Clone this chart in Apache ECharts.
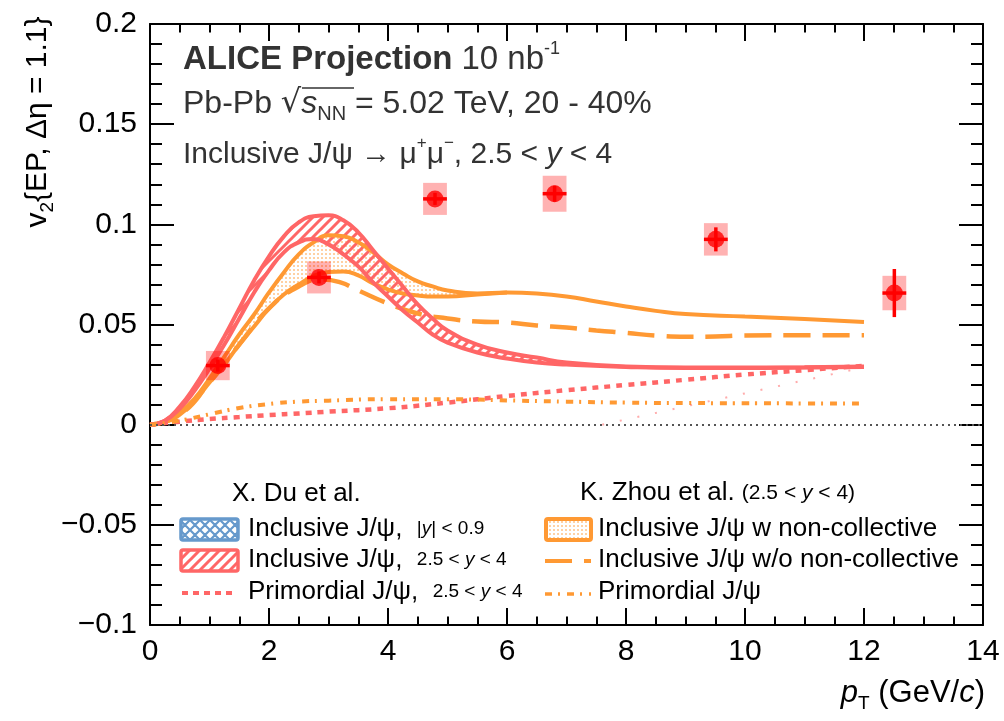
<!DOCTYPE html>
<html><head><meta charset="utf-8">
<script src="https://cdn.jsdelivr.net/npm/echarts@6/dist/echarts.min.js"></script>
<style>html,body{margin:0;padding:0;background:#fff}#c{width:1004px;height:721px}</style>
</head><body><div id="c"></div>
<script>
// ---------------- data ----------------
const xTicks = [0, 2, 4, 6, 8, 10, 12, 14];
const xTickLabels = ['0', '2', '4', '6', '8', '10', '12', '14'];
const yTicks = [-0.1, -0.05, 0, 0.05, 0.1, 0.15, 0.2];
const yTickLabels = ['\u22120.1', '\u22120.05', '0', '0.05', '0.1', '0.15', '0.2'];

// ALICE projected points
const dataPt = [1.14, 2.84, 4.79, 6.80, 9.51, 12.51];
const dataV2 = [0.0295, 0.0735, 0.1127, 0.1153, 0.0925, 0.0657];
const dataStat = [0.003, 0.003, 0.003, 0.004, 0.006, 0.012];
const dataSys = [0.0073, 0.008, 0.008, 0.009, 0.0081, 0.0086];
const dataPtErr = [0.2, 0.2, 0.2, 0.2, 0.2, 0.2];

// X. Du et al., inclusive J/psi 2.5<y<4 (band)
const duPt = [0, 0.25, 0.5, 0.75, 1, 1.25, 1.5, 1.75, 2, 2.25, 2.5, 2.75, 3, 3.25, 3.5, 3.75, 4, 4.25, 4.5, 4.75, 5, 5.5, 6, 6.5, 7, 8, 9, 10, 11, 12];
const duUpper = [0, 0.002, 0.009, 0.019, 0.031, 0.044, 0.058, 0.072, 0.084, 0.094, 0.101, 0.104, 0.1045, 0.102, 0.096, 0.087, 0.078, 0.069, 0.060, 0.053, 0.047, 0.040, 0.036, 0.0335, 0.031, 0.029, 0.0285, 0.0285, 0.0287, 0.029];
const duLower = [0, 0.002, 0.008, 0.017, 0.028, 0.040, 0.053, 0.066, 0.077, 0.0860, 0.0910, 0.0927, 0.090, 0.085, 0.079, 0.071, 0.064, 0.057, 0.051, 0.045, 0.041, 0.036, 0.033, 0.031, 0.030, 0.0288, 0.0283, 0.0283, 0.0285, 0.0288];

// X. Du et al., primordial J/psi
const duPrimPt = [0, 0.5, 1, 1.5, 2, 2.5, 3, 4, 5, 6, 7, 8, 9, 10, 11, 12];
const duPrimV2 = [0, 0.0015, 0.0028, 0.0038, 0.0048, 0.0056, 0.0065, 0.0082, 0.0110, 0.0143, 0.0172, 0.0198, 0.0224, 0.025, 0.0272, 0.0294];

// K. Zhou et al., inclusive w non-collective (band; lower edge merges with upper at 6 GeV/c)
const zhouPt = [0, 0.25, 0.5, 0.75, 1, 1.25, 1.5, 1.75, 2, 2.25, 2.5, 2.75, 3, 3.25, 3.5, 3.75, 4, 4.25, 4.5, 4.75, 5, 5.5, 6, 6.5, 7, 7.5, 8, 8.5, 9, 10, 11, 12];
const zhouUpper = [0, 0.0015, 0.006, 0.013, 0.023, 0.034, 0.045, 0.055, 0.066, 0.076, 0.085, 0.091, 0.0945, 0.094, 0.091, 0.086, 0.080, 0.0755, 0.0715, 0.069, 0.067, 0.0655, 0.066, 0.0655, 0.064, 0.0615, 0.059, 0.0568, 0.0552, 0.054, 0.0528, 0.0513];
const zhouLower = [0, 0.0012, 0.005, 0.012, 0.021, 0.030, 0.040, 0.049, 0.058, 0.065, 0.070, 0.0742, 0.0762, 0.0765, 0.0745, 0.0705, 0.0675, 0.0655, 0.0645, 0.064, 0.064, 0.065, 0.066];

// K. Zhou et al., inclusive w/o non-collective
const zhouNcPt = [0, 0.5, 1, 1.5, 2, 2.5, 2.9, 3.2, 3.5, 4, 4.5, 5, 5.5, 6, 6.5, 7, 7.5, 8, 8.5, 9, 9.5, 10, 11, 12];
const zhouNcV2 = [0, 0.005, 0.021, 0.040, 0.058, 0.069, 0.0725, 0.071, 0.067, 0.0605, 0.0555, 0.053, 0.0515, 0.051, 0.0495, 0.0485, 0.047, 0.0458, 0.0445, 0.0439, 0.044, 0.0445, 0.0446, 0.0446];

// K. Zhou et al., primordial
const zhouPrimPt = [0, 0.5, 1, 1.5, 2, 2.5, 3, 4, 5, 6, 7, 8, 9, 10, 11, 12];
const zhouPrimV2 = [0, 0.002, 0.0052, 0.0083, 0.0103, 0.0115, 0.012, 0.0127, 0.0127, 0.0121, 0.0115, 0.011, 0.0108, 0.0107, 0.0106, 0.0105];

// faint hatch residue visible in the original
const residuePt = [7.6, 11.9];
const residueV2 = [0.0, 0.028];

// ---------------- styles ----------------
const RED = '#ff6666', ORANGE = '#ff9933', BLUE = '#6699cc';
const FONT = '"Liberation Sans", Arial, Helvetica, sans-serif';

function hatchCanvas(color, bg, both) {
  const c = document.createElement('canvas'); c.width = 10; c.height = 10;
  const g = c.getContext('2d');
  if (bg) { g.fillStyle = bg; g.fillRect(0, 0, 10, 10); }
  g.strokeStyle = color; g.lineWidth = both ? 2.2 : 3; g.beginPath();
  g.moveTo(-5, 5); g.lineTo(5, -5); g.moveTo(0, 10); g.lineTo(10, 0); g.moveTo(5, 15); g.lineTo(15, 5);
  if (both) { g.moveTo(-5, 5); g.lineTo(5, 15); g.moveTo(0, 0); g.lineTo(10, 10); g.moveTo(5, -5); g.lineTo(15, 5); }
  g.stroke();
  return c;
}
function dotCanvas(color, bg) {
  const c = document.createElement('canvas'); c.width = 4; c.height = 4;
  const g = c.getContext('2d');
  if (bg) { g.fillStyle = bg; g.fillRect(0, 0, 4, 4); }
  g.fillStyle = color; g.fillRect(1, 1, 2, 2);
  return c;
}
const redHatch = { image: hatchCanvas(RED, null, false), repeat: 'repeat' };
const redHatchLeg = { image: hatchCanvas(RED, '#fff', false), repeat: 'repeat' };
const blueCross = { image: hatchCanvas(BLUE, '#fff', true), repeat: 'repeat' };
const orangeDots = { image: dotCanvas('rgba(255,153,51,0.45)', null), repeat: 'repeat' };
const orangeDotsLeg = { image: dotCanvas('rgba(255,153,51,0.45)', '#fff'), repeat: 'repeat' };

const zip = (xs, ys) => xs.map((x, i) => [x, ys[i]]);

const lineBase = { type: 'line', showSymbol: false, symbol: 'none', smooth: 0.5, silent: true, z: 2 };

// band fill drawn as one polygon (upper edge forward, lower edge back) through the axis scales
function bandSeries(name, xs, up, lo, fill) {
  const n = lo.length;
  return {
    type: 'custom', name: name, silent: true, z: 1,
    data: xs.slice(0, n).map((x, i) => [x, up[i], lo[i]]),
    encode: { x: 0, y: [1, 2] },
    renderItem: (p, api) => {
      if (p.dataIndex !== 0) return null;
      const pts = [];
      for (let i = 0; i < n; i++) pts.push(api.coord([xs[i], up[i]]));
      for (let i = n - 1; i >= 0; i--) pts.push(api.coord([xs[i], lo[i]]));
      return { type: 'polygon', shape: { points: pts }, style: { fill: fill, stroke: null } };
    }
  };
}

const chart = echarts.init(document.getElementById('c'), null, { renderer: 'canvas' });

const axisCommonX = {
  type: 'value', min: 0, max: 14, interval: 2,
  axisLine: { show: true, onZero: false, lineStyle: { color: '#000', width: 2 } },
  axisTick: { show: true, inside: true, length: 17, lineStyle: { color: '#000', width: 2 } },
  minorTick: { show: true, splitNumber: 4, length: 8.5, lineStyle: { color: '#000', width: 2 } },
  splitLine: { show: false }, minorSplitLine: { show: false }
};
const axisCommonY = {
  type: 'value', min: -0.1, max: 0.2, interval: 0.05,
  axisLine: { show: true, onZero: false, lineStyle: { color: '#000', width: 2 } },
  axisTick: { show: true, inside: true, length: 24, lineStyle: { color: '#000', width: 2 } },
  minorTick: { show: true, splitNumber: 5, length: 12, lineStyle: { color: '#000', width: 2 } },
  splitLine: { show: false }, minorSplitLine: { show: false }
};

const option = {
  animation: false,
  backgroundColor: '#fff',
  grid: { left: 150, right: 21, top: 24, bottom: 96, containLabel: false, outerBoundsMode: 'none' },
  xAxis: [
    Object.assign({}, axisCommonX, {
      position: 'bottom',
      axisLabel: { show: true, fontSize: 30, fontFamily: FONT, color: '#000', margin: 12,
        formatter: v => { const i = xTicks.findIndex(t => Math.abs(t - v) < 1e-9); return i >= 0 ? xTickLabels[i] : ''; } }
    }),
    Object.assign({}, axisCommonX, { position: 'top', axisLabel: { show: false } })
  ],
  yAxis: [
    Object.assign({}, axisCommonY, {
      position: 'left',
      axisLabel: { show: true, fontSize: 30, fontFamily: FONT, color: '#000', margin: 13,
        formatter: v => { const i = yTicks.findIndex(t => Math.abs(t - v) < 1e-9); return i >= 0 ? yTickLabels[i] : ''; } }
    }),
    Object.assign({}, axisCommonY, { position: 'right', axisLabel: { show: false } })
  ],
  series: [
    // zero reference line
    { type: 'line', data: [], silent: true, z: 1,
      markLine: { silent: true, symbol: 'none', label: { show: false },
        lineStyle: { color: '#555', width: 2, type: [2, 4] }, data: [{ yAxis: 0 }] } },
    // band fills
    bandSeries('zhouBand', zhouPt, zhouUpper, zhouLower, orangeDots),
    bandSeries('duBand', duPt, duUpper, duLower, redHatch),
    // Zhou band edges
    Object.assign({}, lineBase, { name: 'zhouLow', data: zip(zhouPt.slice(0, zhouLower.length), zhouLower), lineStyle: { color: ORANGE, width: 4 } }),
    Object.assign({}, lineBase, { name: 'zhouUp', data: zip(zhouPt, zhouUpper), lineStyle: { color: ORANGE, width: 4 } }),
    // Zhou w/o non-collective
    Object.assign({}, lineBase, { name: 'zhouNc', data: zip(zhouNcPt, zhouNcV2), lineStyle: { color: ORANGE, width: 4.5, type: [27, 12] } }),
    // Du band edges
    Object.assign({}, lineBase, { name: 'duLow', data: zip(duPt, duLower), lineStyle: { color: RED, width: 4 } }),
    Object.assign({}, lineBase, { name: 'duUp', data: zip(duPt, duUpper), lineStyle: { color: RED, width: 4 } }),
    // primordial
    Object.assign({}, lineBase, { name: 'duPrim', data: zip(duPrimPt, duPrimV2), lineStyle: { color: RED, width: 4.5, type: [6, 6] } }),
    Object.assign({}, lineBase, { name: 'zhouPrim', data: zip(zhouPrimPt, zhouPrimV2), lineStyle: { color: ORANGE, width: 4, type: [7, 6, 2, 7] } }),
    Object.assign({}, lineBase, { name: 'residue', smooth: false, data: zip(residuePt, residueV2), lineStyle: { color: 'rgba(255,102,102,0.55)', width: 2, type: [2, 16] } }),
    // systematic boxes
    { type: 'custom', name: 'sys', silent: true, z: 4,
      data: dataPt.map((x, i) => [x, dataV2[i], dataSys[i], dataPtErr[i]]),
      encode: { x: 0, y: 1 },
      renderItem: (p, api) => {
        const x = api.value(0), y = api.value(1), s = api.value(2), w = api.value(3);
        const a = api.coord([x - w, y + s]), b = api.coord([x + w, y - s]);
        return { type: 'rect', shape: { x: a[0], y: a[1], width: b[0] - a[0], height: b[1] - a[1] },
          style: { fill: 'rgba(255,0,0,0.3)' } };
      } },
    // statistical error bars
    { type: 'custom', name: 'stat', silent: true, z: 5,
      data: dataPt.map((x, i) => [x, dataV2[i], dataStat[i], dataPtErr[i]]),
      encode: { x: 0, y: 1 },
      renderItem: (p, api) => {
        const x = api.value(0), y = api.value(1), e = api.value(2), ex = api.value(3);
        const t = api.coord([x, y + e]), b = api.coord([x, y - e]);
        const l = api.coord([x - ex, y]), r = api.coord([x + ex, y]);
        const st = { stroke: '#ff0000', lineWidth: 3.5 };
        return { type: 'group', children: [
          { type: 'line', shape: { x1: t[0], y1: t[1], x2: b[0], y2: b[1] }, style: st },
          { type: 'line', shape: { x1: l[0], y1: l[1], x2: r[0], y2: r[1] }, style: st }
        ] };
      } },
    { type: 'scatter', name: 'ALICE', silent: true, z: 6, symbol: 'circle', symbolSize: 17,
      itemStyle: { color: '#ff0000' }, data: zip(dataPt, dataV2) }
  ],
  graphic: [
    // header texts
    { type: 'text', x: 183, y: 60, z: 10, style: {
      text: '{b|ALICE Projection} {n|10 nb}{sup|-1}', verticalAlign: 'middle', fill: '#333', font: '32px ' + FONT,
      rich: { b: { fontWeight: 'bold', fontSize: 33, fontFamily: FONT, fill: '#333', lineHeight: 40 },
              n: { fontSize: 33, fontFamily: FONT, fill: '#333', lineHeight: 40 },
              sup: { fontSize: 18, fontFamily: FONT, fill: '#333', lineHeight: 22, verticalAlign: 'top' } } } },
    { type: 'text', x: 183, y: 104, z: 10, style: {
      text: '{n|Pb-Pb }{r|\u221A}{i|s}{sub|NN}{n| = 5.02 TeV, 20 - 40%}', verticalAlign: 'middle', fill: '#333',
      rich: { n: { fontSize: 32, fontFamily: FONT, fill: '#333', lineHeight: 40 },
              r: { fontSize: 32, fontFamily: '"DejaVu Sans", ' + FONT, fill: '#333', lineHeight: 40 },
              i: { fontSize: 32, fontFamily: FONT, fontStyle: 'italic', fill: '#333', lineHeight: 40 },
              sub: { fontSize: 20, fontFamily: FONT, fill: '#333', lineHeight: 20, verticalAlign: 'bottom' } } } },
    { type: 'line', z: 10, shape: { x1: 302, y1: 88, x2: 354, y2: 88 }, style: { stroke: '#333', lineWidth: 1.5 } },
    { type: 'text', x: 183, y: 155, z: 10, style: {
      text: '{n|Inclusive J/\u03C8 \u2192 \u03BC}{sup|+}{n|\u03BC}{sup|\u2212}{n|, 2.5 < }{i|y}{n| < 4}', verticalAlign: 'middle',
      rich: { n: { fontSize: 30, fontFamily: FONT, fill: '#333', lineHeight: 40 },
              i: { fontSize: 30, fontFamily: FONT, fontStyle: 'italic', fill: '#333', lineHeight: 40 },
              sup: { fontSize: 17, fontFamily: FONT, fill: '#333', lineHeight: 26, verticalAlign: 'top' } } } },
    // y-axis title
    { type: 'text', x: 38, y: 122, rotation: Math.PI / 2, z: 10, style: {
      text: 'v{sub|2}{EP, \u0394\u03B7 = 1.1}', align: 'center', verticalAlign: 'middle',
      font: '30px ' + FONT, fill: '#000', lineHeight: 38,
      rich: { sub: { fontSize: 19, fontFamily: FONT, fill: '#000', lineHeight: 19, verticalAlign: 'bottom' } } } },
    // x-axis title
    { type: 'text', x: 985, y: 693, z: 10, style: {
      text: '{i|p}{sub|T}{n| (GeV/}{i|c}{n|)}', align: 'right', verticalAlign: 'middle',
      rich: { n: { fontSize: 31, fontFamily: FONT, fill: '#000', lineHeight: 40 },
              i: { fontSize: 31, fontFamily: FONT, fontStyle: 'italic', fill: '#000', lineHeight: 40 },
              sub: { fontSize: 19, fontFamily: FONT, fill: '#000', lineHeight: 18, verticalAlign: 'bottom' } } } },
    // ---- legend (left) ----
    { type: 'text', x: 232, y: 494, z: 10, style: { text: 'X. Du et al.', font: '26px ' + FONT, fill: '#000', verticalAlign: 'middle' } },
    { type: 'rect', z: 10, shape: { x: 181, y: 519, width: 57, height: 21, r: 2 }, style: { fill: blueCross, stroke: BLUE, lineWidth: 3.5 } },
    { type: 'text', x: 248, y: 529, z: 10, style: {
      text: '{n|Inclusive J/\u03C8,  }{s||}{si|y}{s|| < 0.9}', verticalAlign: 'middle',
      rich: { n: { fontSize: 26, fontFamily: FONT, fill: '#000', lineHeight: 32 },
              s: { fontSize: 19, fontFamily: FONT, fill: '#000', lineHeight: 32 },
              si: { fontSize: 19, fontFamily: FONT, fontStyle: 'italic', fill: '#000', lineHeight: 32 } } } },
    { type: 'rect', z: 10, shape: { x: 181, y: 550, width: 57, height: 21, r: 2 }, style: { fill: redHatchLeg, stroke: RED, lineWidth: 3.5 } },
    { type: 'text', x: 248, y: 560, z: 10, style: {
      text: '{n|Inclusive J/\u03C8,  }{s|2.5 < }{si|y}{s| < 4}', verticalAlign: 'middle',
      rich: { n: { fontSize: 26, fontFamily: FONT, fill: '#000', lineHeight: 32 },
              s: { fontSize: 19, fontFamily: FONT, fill: '#000', lineHeight: 32 },
              si: { fontSize: 19, fontFamily: FONT, fontStyle: 'italic', fill: '#000', lineHeight: 32 } } } },
    { type: 'line', z: 10, shape: { x1: 182, y1: 593, x2: 236, y2: 593 }, style: { stroke: RED, lineWidth: 4, lineDash: [6, 5] } },
    { type: 'text', x: 248, y: 592, z: 10, style: {
      text: '{n|Primordial J/\u03C8,  }{s|2.5 < }{si|y}{s| < 4}', verticalAlign: 'middle',
      rich: { n: { fontSize: 26, fontFamily: FONT, fill: '#000', lineHeight: 32 },
              s: { fontSize: 19, fontFamily: FONT, fill: '#000', lineHeight: 32 },
              si: { fontSize: 19, fontFamily: FONT, fontStyle: 'italic', fill: '#000', lineHeight: 32 } } } },
    // ---- legend (right) ----
    { type: 'text', x: 580, y: 493, z: 10, style: {
      text: '{n|K. Zhou et al. }{s|(2.5 < }{si|y}{s| < 4)}', verticalAlign: 'middle',
      rich: { n: { fontSize: 26, fontFamily: FONT, fill: '#000', lineHeight: 32 },
              s: { fontSize: 21, fontFamily: FONT, fill: '#000', lineHeight: 32 },
              si: { fontSize: 21, fontFamily: FONT, fontStyle: 'italic', fill: '#000', lineHeight: 32 } } } },
    { type: 'rect', z: 10, shape: { x: 546, y: 519, width: 45, height: 21, r: 2 }, style: { fill: orangeDotsLeg, stroke: ORANGE, lineWidth: 4 } },
    { type: 'text', x: 598, y: 529, z: 10, style: { text: 'Inclusive J/\u03C8 w non-collective', font: '26px ' + FONT, fill: '#000', verticalAlign: 'middle' } },
    { type: 'line', z: 10, shape: { x1: 545, y1: 561, x2: 591, y2: 561 }, style: { stroke: ORANGE, lineWidth: 4, lineDash: [27, 12] } },
    { type: 'text', x: 598, y: 560, z: 10, style: { text: 'Inclusive J/\u03C8 w/o non-collective', font: '26px ' + FONT, fill: '#000', verticalAlign: 'middle' } },
    { type: 'line', z: 10, shape: { x1: 545, y1: 594, x2: 591, y2: 594 }, style: { stroke: ORANGE, lineWidth: 3.5, lineDash: [7, 6, 2, 7] } },
    { type: 'text', x: 598, y: 592, z: 10, style: { text: 'Primordial J/\u03C8', font: '26px ' + FONT, fill: '#000', verticalAlign: 'middle' } }
  ]
};
chart.setOption(option);
</script>
</body></html>
